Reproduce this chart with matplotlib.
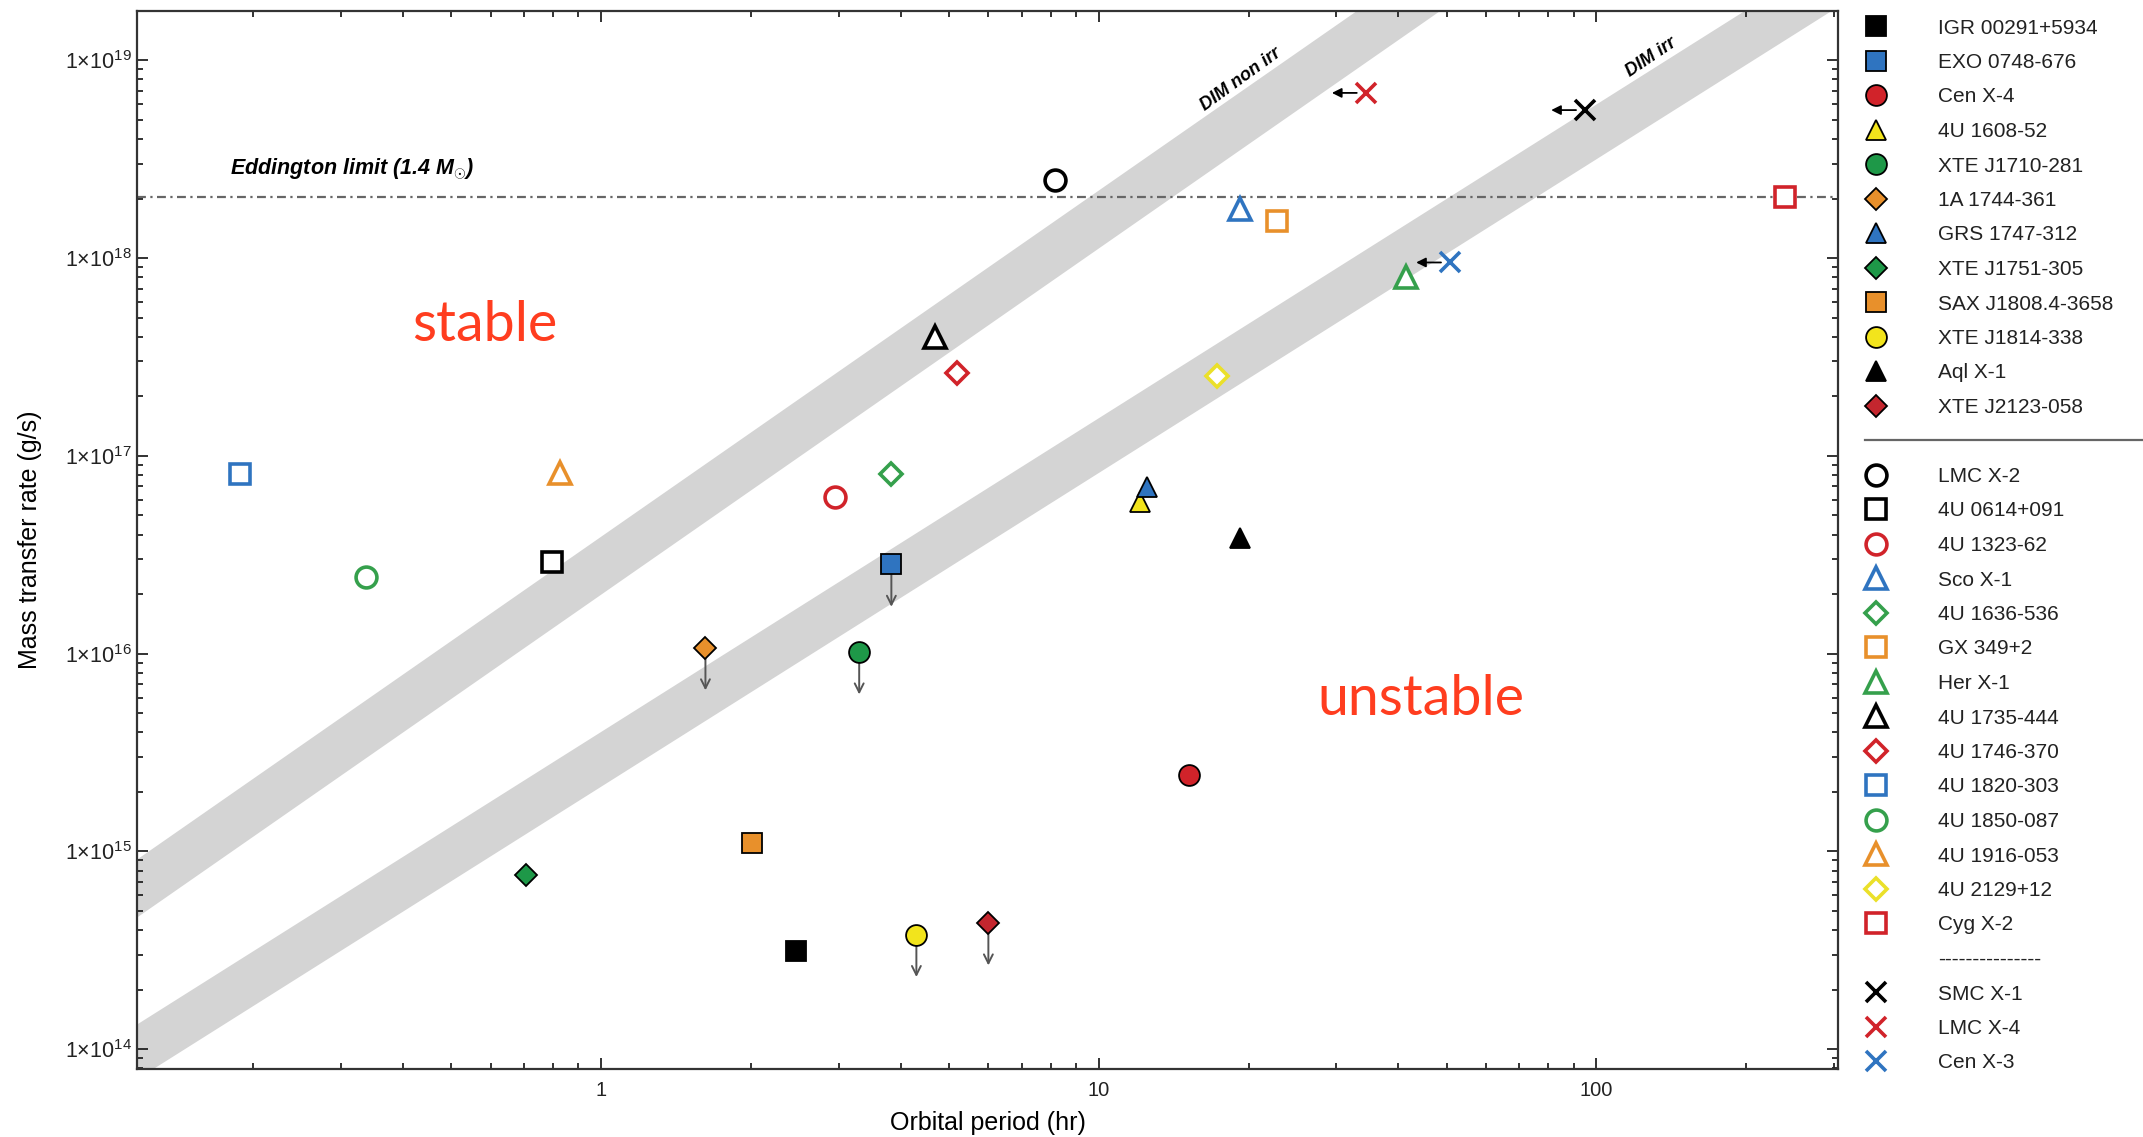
import numpy as np
import matplotlib
matplotlib.use('Agg')
import matplotlib.pyplot as plt
from matplotlib.ticker import FixedLocator, FixedFormatter, LogLocator, NullFormatter

plt.rcParams['font.family'] = ['Liberation Sans', 'DejaVu Sans']
plt.rcParams['mathtext.fontset'] = 'custom'
plt.rcParams['mathtext.rm'] = 'Liberation Sans'
plt.rcParams['mathtext.it'] = 'Liberation Sans:italic'
plt.rcParams['mathtext.bf'] = 'Liberation Sans:bold:italic'

# ---- data ----
# transient sources (filled symbols)
names_filled = ['IGR 00291+5934', 'EXO 0748-676', 'Cen X-4', '4U 1608-52', 'XTE J1710-281',
                '1A 1744-361', 'GRS 1747-312', 'XTE J1751-305', 'SAX J1808.4-3658',
                'XTE J1814-338', 'Aql X-1', 'XTE J2123-058']
period_filled = [2.46, 3.83, 15.2, 12.1, 3.30, 1.62, 12.5, 0.706, 2.01, 4.30, 19.2, 6.0]
mdot_filled = [3.15e14, 2.83e16, 2.42e15, 5.87e16, 1.02e16, 1.07e16, 6.98e16, 7.6e14,
               1.1e15, 3.8e14, 3.84e16, 4.35e14]
upper_limit = [False, True, False, False, True, True, False, False, False, True, False, True]

# persistent sources (open symbols)
names_open = ['LMC X-2', '4U 0614+091', '4U 1323-62', 'Sco X-1', '4U 1636-536', 'GX 349+2',
              'Her X-1', '4U 1735-444', '4U 1746-370', '4U 1820-303', '4U 1850-087',
              '4U 1916-053', '4U 2129+12', 'Cyg X-2']
period_open = [8.17, 0.796, 2.95, 19.2, 3.82, 22.8, 41.4, 4.69, 5.18, 0.188, 0.337, 0.827, 17.3, 239]
mdot_open = [2.47e18, 2.92e16, 6.2e16, 1.78e18, 8.1e16, 1.54e18, 7.98e17, 4.0e17, 2.63e17,
             8.07e16, 2.45e16, 8.2e16, 2.54e17, 2.04e18]

# high-mass systems (crosses, periods are upper limits)
names_hmxb = ['SMC X-1', 'LMC X-4', 'Cen X-3']
period_hmxb = [94.9, 34.4, 50.8]
mdot_hmxb = [5.6e18, 6.84e18, 9.5e17]

eddington = 2.04e18

# DIM critical-rate bands: edges at the two ends of the period range
band_period = [0.1, 400]
nonirr_lo = [10**14.548, 10**20.852]
nonirr_hi = [10**14.841, 10**21.145]
irr_lo = [10**13.741, 10**19.454]
irr_hi = [10**14.018, 10**19.731]

# ---- styles ----
BLUE, RED, YEL, GRN, ORG, DRED = '#2f74c0', '#d1232a', '#f2e41c', '#1e9848', '#e8902b', '#c4262e'
OGRN, OYEL = '#35a04c', '#ebe02a'
markers_filled = ['s', 's', 'o', '^', 'o', 'D', '^', 'D', 's', 'o', '^', 'D']
colors_filled = ['black', BLUE, RED, YEL, GRN, ORG, BLUE, GRN, ORG, YEL, 'black', DRED]
markers_open = ['o', 's', 'o', '^', 'D', 's', '^', '^', 'D', 's', 'o', '^', 'D', 's']
colors_open = ['black', 'black', RED, BLUE, OGRN, ORG, OGRN, 'black', RED, BLUE, OGRN, ORG, OYEL, RED]
colors_hmxb = ['black', RED, BLUE]
size_filled = {'s': 14, 'o': 15, '^': 15, 'D': 11.5}
size_open = {'s': 14, 'o': 15, '^': 15.5, 'D': 11.5}
STABLE_RED = '#ff3d1f'


def draw_filled(a, x, y, m, c, z=4):
    a.plot(x, y, ls='none', marker=m, ms=size_filled[m], mfc=c, mec='black', mew=1.3,
           zorder=z, clip_on=False)


def draw_open(a, x, y, m, c, z=4):
    a.plot(x, y, ls='none', marker=m, ms=size_open[m], mfc='white', mec=c, mew=2.6,
           zorder=z, clip_on=False)


def draw_cross(a, x, y, c, z=4):
    a.plot(x, y, ls='none', marker='x', ms=15, mec=c, mew=2.6, zorder=z, clip_on=False)


fig = plt.figure(figsize=(21.43, 11.37), dpi=100)
ax = fig.add_axes([137 / 2143, 68 / 1137, 1701 / 2143, 1058 / 1137])
ax.set_xscale('log')
ax.set_yscale('log')
ax.set_xlim(0.1167, 306)
ax.set_ylim(7.94e13, 1.775e19)

ax.fill_between(band_period, nonirr_lo, nonirr_hi, color='#d4d4d4', lw=0, zorder=1)
ax.fill_between(band_period, irr_lo, irr_hi, color='#d4d4d4', lw=0, zorder=1)
ax.axhline(eddington, color='#666666', lw=1.6, ls=(0, (4, 2, 1, 2)), zorder=1.5)

# upper-limit arrows for transients
for p, m, ul in zip(period_filled, mdot_filled, upper_limit):
    if ul:
        ax.annotate('', xy=(p * 1.0, m * 10**-0.215), xytext=(p, m),
                    arrowprops=dict(arrowstyle='->', color='#555555', lw=1.4,
                                    mutation_scale=16, shrinkA=0, shrinkB=0), zorder=2)

for p, m, mk, c in zip(period_filled, mdot_filled, markers_filled, colors_filled):
    draw_filled(ax, p, m, mk, c)
for p, m, mk, c in zip(period_open, mdot_open, markers_open, colors_open):
    draw_open(ax, p, m, mk, c)
for p, m, c in zip(period_hmxb, mdot_hmxb, colors_hmxb):
    ax.annotate('', xy=(p * 10**-0.068, m), xytext=(p * 10**-0.018, m),
                arrowprops=dict(arrowstyle='-|>', color='black', lw=1.3,
                                mutation_scale=14, shrinkA=0, shrinkB=0), zorder=2)
    draw_cross(ax, p, m, c)

# annotations
ax.text(0.1795, 2.8e18, r'Eddington limit (1.4 $\mathbf{M}_{\odot}$)', fontsize=15.5,
        fontweight='bold', fontstyle='italic', ha='left', va='center', zorder=5)
ax.text(19.3, 8.0e18, 'DIM non irr', fontsize=13, fontweight='bold', fontstyle='italic',
        rotation=36, ha='center', va='center', rotation_mode='anchor', zorder=5)
ax.text(128.8, 1.04e19, 'DIM irr', fontsize=13, fontweight='bold', fontstyle='italic',
        rotation=34, ha='center', va='center', rotation_mode='anchor', zorder=5)
ax.text(0.584, 4.58e17, 'stable', fontsize=40, color=STABLE_RED, family=['Lato', 'DejaVu Sans'],
        ha='center', va='center', zorder=5)
ax.text(44.5, 5.85e15, 'unstable', fontsize=40, color=STABLE_RED, family=['Lato', 'DejaVu Sans'],
        ha='center', va='center', zorder=5)

# axes and ticks
ax.xaxis.set_major_locator(FixedLocator([1, 10, 100]))
ax.xaxis.set_major_formatter(FixedFormatter(['1', '10', '100']))
ax.xaxis.set_minor_locator(LogLocator(base=10, subs=np.arange(2, 10)))
ax.xaxis.set_minor_formatter(NullFormatter())
ydec = [14, 15, 16, 17, 18, 19]
ax.yaxis.set_major_locator(FixedLocator([10.0**d for d in ydec]))
ax.yaxis.set_major_formatter(FixedFormatter([r'1×10$^{%d}$' % d for d in ydec]))
ax.yaxis.set_minor_locator(LogLocator(base=10, subs=np.arange(2, 10)))
ax.yaxis.set_minor_formatter(NullFormatter())
ax.tick_params(which='both', direction='in', top=True, right=True, width=1.3, colors='#222222')
ax.tick_params(which='major', length=8)
ax.tick_params(which='minor', length=4.5)
ax.tick_params(axis='x', which='major', labelsize=14.5, pad=9)
ax.tick_params(axis='y', which='major', labelsize=15.5, pad=4)
for s in ax.spines.values():
    s.set_linewidth(1.6)
    s.set_color('#333333')

fig.text(988 / 2143, 1 - 1123 / 1137, 'Orbital period (hr)', fontsize=18, ha='center', va='center')
fig.text(30 / 2143, 1 - 540 / 1137, 'Mass transfer rate (g/s)', fontsize=18, rotation=90,
         ha='center', va='center')

# legend panel on the right
lax = fig.add_axes([1840 / 2143, 0, 303 / 2143, 1])
lax.set_xlim(0, 303)
lax.set_ylim(1137, 0)
lax.axis('off')


def row_y(r):
    return 26 + 34.5 * r


MX, TX = 36, 98
for i, (n, mk, c) in enumerate(zip(names_filled, markers_filled, colors_filled)):
    draw_filled(lax, MX, row_y(i), mk, c)
    lax.text(TX, row_y(i), n, fontsize=15, va='center_baseline', color='#222222')
lax.plot([25, 303], [row_y(12), row_y(12)], color='#666666', lw=1.6, clip_on=False)
for j, (n, mk, c) in enumerate(zip(names_open, markers_open, colors_open)):
    r = 13 + j
    draw_open(lax, MX, row_y(r), mk, c)
    lax.text(TX, row_y(r), n, fontsize=15, va='center_baseline', color='#222222')
lax.text(TX, row_y(27), '-' * 15, fontsize=15, va='center_baseline', color='#222222')
for k, (n, c) in enumerate(zip(names_hmxb, colors_hmxb)):
    r = 28 + k
    draw_cross(lax, MX, row_y(r), c)
    lax.text(TX, row_y(r), n, fontsize=15, va='center_baseline', color='#222222')

fig.savefig('out.png', dpi=100)
